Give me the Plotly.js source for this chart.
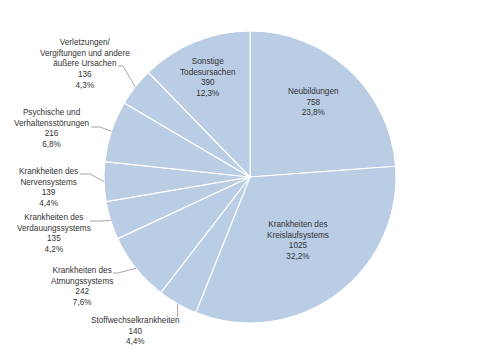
<!DOCTYPE html>
<html>
<head>
<meta charset="utf-8">
<script src="https://cdn.plot.ly/plotly-3.0.1.min.js"></script>
<style>html,body{margin:0;padding:0;background:#fff;}#chart{width:500px;height:354px;}</style>
</head>
<body>
<div id="chart"></div>
<script>
// Data
const categories = [
  'Neubildungen',
  'Krankheiten des Kreislaufsystems',
  'Stoffwechselkrankheiten',
  'Krankheiten des Atmungssystems',
  'Krankheiten des Verdauungssystems',
  'Krankheiten des Nervensystems',
  'Psychische und Verhaltensstörungen',
  'Verletzungen/ Vergiftungen und andere äußere Ursachen',
  'Sonstige Todesursachen'
];
const labelText = [
  'Neubildungen',
  'Krankheiten des<br>Kreislaufsystems',
  'Stoffwechselkrankheiten',
  'Krankheiten des<br>Atmungssystems',
  'Krankheiten des<br>Verdauungssystems',
  'Krankheiten des<br>Nervensystems',
  'Psychische und<br>Verhaltensstörungen',
  'Verletzungen/<br>Vergiftungen und andere<br>äußere Ursachen',
  'Sonstige<br>Todesursachen'
];
const values = [758, 1025, 140, 242, 135, 139, 216, 136, 390];

// Layout (pixel geometry)
const W = 500, H = 354, CX = 250, CY = 177, R = 146;
// label centers [x, y] and leader line [knee, end] (null for inside labels)
const labelPos = [
  [313, 102], [298, 240], [135, 331], [82, 286], [54, 233],
  [48, 187], [52, 128], [85, 64.5], [208, 77.5]
];
const leader = [
  null, null,
  [[177.5, 317], [177.5, 317]],
  [[118, 273], [113, 273]],
  [[100, 221], [90, 221]],
  [[90, 174], [80, 174]],
  [[100, 127], [91, 127]],
  [[123, 66], [118, 66]],
  null
];

const total = values.reduce((a, b) => a + b, 0);
const px = x => x / W, py = y => 1 - y / H;

const annotations = [];
const shapes = [];
let cum = 0;
values.forEach((v, i) => {
  const mid = (cum + v / 2) / total * 2 * Math.PI;
  cum += v;
  const pct = (v / total * 100).toFixed(1).replace('.', ',') + '%';
  annotations.push({
    x: px(labelPos[i][0]), y: py(labelPos[i][1]), xref: 'paper', yref: 'paper',
    xanchor: 'center', yanchor: 'middle', showarrow: false, align: 'center',
    text: labelText[i] + '<br>' + v + '<br>' + pct,
    font: {family: 'Liberation Sans, Arial, sans-serif', size: 8.2, color: '#333333'}
  });
  if (leader[i]) {
    const ex = CX + R * Math.sin(mid), ey = CY - R * Math.cos(mid);
    const pts = [[ex, ey], leader[i][0], leader[i][1]];
    const path = 'M' + pts.map(p => px(p[0]) + ',' + py(p[1])).join(' L');
    shapes.push({type: 'path', xref: 'paper', yref: 'paper', path: path,
      line: {color: '#a6a6a6', width: 1}});
  }
});

const trace = {
  type: 'pie',
  labels: categories,
  values: values,
  sort: false,
  direction: 'clockwise',
  rotation: 0,
  textinfo: 'none',
  hoverinfo: 'label+value+percent',
  marker: {colors: categories.map(() => '#b9cde5'), line: {color: '#ffffff', width: 1.2}},
  domain: {x: [0, 1], y: [py(CY + R), py(CY - R)]}
};

const layout = {
  width: W, height: H,
  margin: {l: 0, r: 0, t: 0, b: 0},
  showlegend: false,
  paper_bgcolor: '#ffffff',
  annotations: annotations,
  shapes: shapes,
  font: {family: 'Liberation Sans, Arial, sans-serif'}
};

Plotly.newPlot('chart', [trace], layout, {displayModeBar: false, staticPlot: true});
</script>
</body>
</html>
